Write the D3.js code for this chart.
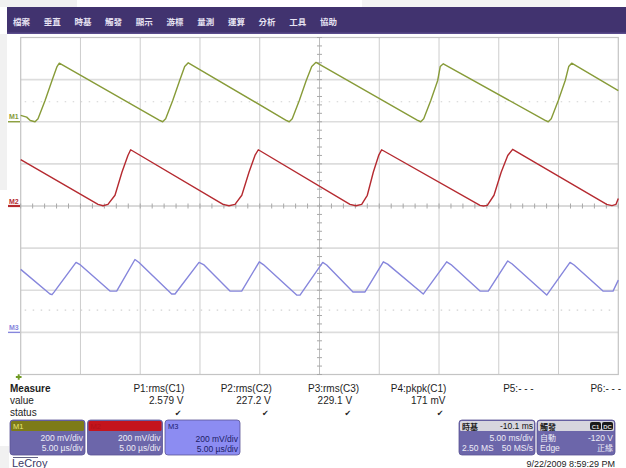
<!DOCTYPE html>
<html>
<head>
<meta charset="utf-8">
<script src="https://cdn.jsdelivr.net/npm/d3@7/dist/d3.min.js"></script>
<style>
  html, body { margin: 0; padding: 0; background: #fff; }
  svg { display: block; font-family: "Liberation Sans", Arial, sans-serif; }
</style>
</head>
<body>
<svg id="scope" width="626" height="468"></svg>
<script>
// ---- menu bar ----
const menuItems = ["檔案", "垂直", "時基", "觸發", "顯示", "游標", "量測", "運算", "分析", "工具", "協助"];

// ---- memory traces: [time (ms), level (mV) relative to the trace's own ground] ----
const traceM1 = [
  [0, 30], [0.5, 22], [0.8, 6], [1.2, 0], [1.45, 14], [2.04, 101], [2.62, 196], [3.04, 262], [3.23, 278],
  [11.58, 8], [11.88, 0], [12.13, 14], [12.72, 101], [13.3, 196], [13.72, 262], [14.02, 280],
  [22.17, 8], [22.47, 0], [22.72, 14], [23.31, 101], [23.89, 196], [24.35, 262], [24.71, 282],
  [33.17, 8], [33.47, 0], [33.72, 14], [34.31, 101], [34.89, 196], [35.1, 262], [35.36, 275],
  [43.84, 8], [44.14, 0], [44.39, 14], [44.98, 101], [45.56, 196], [45.85, 262], [46.1, 278],
  [50, 148]
];
const traceM2 = [
  [0, 220], [6.47, 8], [6.89, 1], [7.3, 8], [7.89, 51], [8.47, 160], [8.97, 240], [9.2, 267],
  [16.93, 8], [17.43, 1], [17.93, 8], [18.5, 51], [19.1, 160], [19.6, 240], [19.88, 267],
  [27.55, 8], [28.05, 1], [28.53, 8], [29.0, 51], [29.5, 160], [29.95, 240], [30.2, 267],
  [38.43, 3], [38.72, 0], [39.04, 3], [39.6, 51], [40.2, 160], [40.75, 240], [41.16, 269],
  [49.03, 8], [49.47, 2], [49.81, 8], [50, 36]
];
const traceM3 = [
  [0, 299], [2.45, 182], [2.62, 179], [2.79, 191], [4.63, 332], [5.0, 320],
  [7.47, 196], [8.03, 196], [9.56, 346], [9.9, 332],
  [12.63, 182], [12.91, 182], [14.92, 332], [15.3, 322],
  [17.51, 196], [18.49, 196], [19.96, 335], [20.3, 322],
  [23.09, 177], [23.37, 177], [25.27, 332], [25.6, 320],
  [27.8, 192], [28.81, 192], [30.34, 335], [30.7, 324],
  [33.68, 182], [35.64, 335], [36.0, 322],
  [38.43, 196], [39.12, 196], [40.75, 339], [41.1, 326],
  [44.01, 177], [45.96, 332], [46.3, 320],
  [48.72, 196], [49.56, 196], [50, 248]
];
const traceIds = ["M1", "M2", "M3"];
const traceGrounds = [400, 0, -600];          // mV, screen offset of each trace
const voltsPerDiv = ["200 mV/div", "200 mV/div", "200 mV/div"];
const timePerDiv = ["5.00 µs/div", "5.00 µs/div", "5.00 µs/div"];

// ---- measurement table ----
const measureNames = ["P1:rms(C1)", "P2:rms(C2)", "P3:rms(C3)", "P4:pkpk(C1)", "P5:- - -", "P6:- - -"];
const measureValues = ["2.579 V", "227.2 V", "229.1 V", "171 mV", "", ""];
const measureStatus = [true, true, true, true, false, false];

// ---- timebase / trigger ----
const timebaseDelay = "-10.1 ms";
const timebaseScale = "5.00 ms/div";
const sampleMemory = "2.50 MS";
const sampleRate = "50 MS/s";
const triggerMode = "自動";
const triggerLevel = "-120 V";
const triggerType = "Edge";
const triggerSlope = "正緣";
const timestamp = "9/22/2009 8:59:29 PM";

const svg = d3.select("#scope");
const W = 626, H = 468;

// light chrome patches around the window
svg.append("rect").attr("x", 0).attr("y", 0).attr("width", 77).attr("height", 7).attr("fill", "#f1f1f1");
svg.append("rect").attr("x", 362).attr("y", 0).attr("width", 208).attr("height", 7).attr("fill", "#f3f3f3");
svg.append("rect").attr("x", 0).attr("y", 34).attr("width", 7).attr("height", 156).attr("fill", "#f1f1f1");
svg.append("rect").attr("x", 0).attr("y", 446).attr("width", 9).attr("height", 22).attr("fill", "#f1f1f1");

// menu bar
svg.append("rect").attr("x", 7).attr("y", 7).attr("width", W - 7).attr("height", 27).attr("fill", "#41336f");
svg.append("rect").attr("x", 7).attr("y", 32.5).attr("width", W - 7).attr("height", 1.5).attr("fill", "#5a4c8c");
const menuX = d3.scaleLinear().domain([0, 1]).range([21.5, 52.2]);
svg.append("g").selectAll("text").data(menuItems).join("text")
  .attr("x", (d, i) => menuX(i))
  .attr("y", 25)
  .attr("text-anchor", "middle")
  .attr("font-family", "'Noto Sans CJK TC', sans-serif")
  .attr("font-size", 8.5)
  .attr("font-weight", 700)
  .attr("fill", "#e6e2f2")
  .text(d => d);

// ---- plot area ----
const x = d3.scaleLinear().domain([0, 50]).range([20.7, 618.3]);
const y = d3.scaleLinear().domain([-800, 800]).range([374.5, 37.5]);
const grid = svg.append("g");

// horizontal divisions
grid.selectAll("line.h").data(d3.range(-600, 601, 200)).join("line")
  .attr("x1", x(0)).attr("x2", x(50))
  .attr("y1", d => y(d)).attr("y2", d => y(d))
  .attr("stroke", d => d === 0 ? "#b4b4b4" : "#dddddd")
  .attr("stroke-width", d => d === 0 ? 1 : 1.6);
// vertical divisions
grid.selectAll("line.v").data(d3.range(5, 50, 5)).join("line")
  .attr("y1", y(800)).attr("y2", y(-800))
  .attr("x1", d => x(d)).attr("x2", d => x(d))
  .attr("stroke", d => d === 25 ? "#bdbdbd" : "#cdcdcd")
  .attr("stroke-width", 1);
// frame
grid.append("rect").attr("x", x(0)).attr("y", y(800))
  .attr("width", x(50) - x(0)).attr("height", y(-800) - y(800))
  .attr("fill", "none").attr("stroke", "#c4c4c4").attr("stroke-width", 1.2);

// minor ticks along the centre axes
grid.selectAll("line.tx").data(d3.range(0, 50.01, 1)).join("line")
  .attr("x1", d => x(d)).attr("x2", d => x(d))
  .attr("y1", y(0) - 2.5).attr("y2", y(0) + 2.5)
  .attr("stroke", "#a8a8a8").attr("stroke-width", 1);
grid.selectAll("line.ty").data(d3.range(-800, 800.1, 40)).join("line")
  .attr("y1", d => y(d)).attr("y2", d => y(d))
  .attr("x1", x(25) - 2.5).attr("x2", x(25) + 2.5)
  .attr("stroke", "#a8a8a8").attr("stroke-width", 1);

// faint cursor rows
[495, -494].forEach(v => {
  grid.append("line")
    .attr("x1", x(0) + 4).attr("x2", x(50) - 4)
    .attr("y1", y(v)).attr("y2", y(v))
    .attr("stroke", "#d2d2d2").attr("stroke-width", 1.2)
    .attr("stroke-dasharray", "1.5 6.5");
});

// traces
const traceColors = ["#879b38", "#b52a30", "#8686dc"];
const traceData = [traceM1, traceM2, traceM3];
const traces = svg.append("g");
traceData.forEach((data, i) => {
  const line = d3.line()
    .x(d => x(d[0]))
    .y(d => y(d[1] + traceGrounds[i]));
  traces.append("path")
    .datum(data)
    .attr("d", line)
    .attr("fill", "none")
    .attr("stroke", traceColors[i])
    .attr("stroke-width", 1.4)
    .attr("stroke-linejoin", "round");
});

// ground markers on the left edge
traceIds.forEach((id, i) => {
  const gy = y(traceGrounds[i]);
  svg.append("line")
    .attr("x1", 8).attr("x2", 20).attr("y1", gy).attr("y2", gy)
    .attr("stroke", traceColors[i]).attr("stroke-width", i === 1 ? 2.2 : 1.4);
  svg.append("text")
    .attr("x", 9).attr("y", gy - 2.5)
    .attr("font-size", 7).attr("font-weight", 700)
    .attr("fill", traceColors[i])
    .text(id);
});

// trigger position marker
svg.append("path")
  .attr("d", d3.symbol(d3.symbolCross, 18)())
  .attr("transform", `translate(${x(0) - 2},377)`)
  .attr("fill", "#6f9a24");

// ---- measurement table ----
const colRight = d3.scaleLinear().domain([0, 1]).range([184.5, 271.8]);
const table = svg.append("g").attr("font-size", 10).attr("fill", "#1d1d1d");
table.append("text").attr("x", 10).attr("y", 392).attr("font-weight", 700).text("Measure");
table.append("text").attr("x", 10).attr("y", 404).text("value");
table.append("text").attr("x", 10).attr("y", 416).text("status");
table.selectAll("text.name").data(measureNames).join("text")
  .attr("x", (d, i) => colRight(i)).attr("y", 392)
  .attr("text-anchor", "end").text(d => d);
table.selectAll("text.val").data(measureValues).join("text")
  .attr("x", (d, i) => colRight(i) - (i === 2 ? 7 : 1)).attr("y", 404)
  .attr("text-anchor", "end").text(d => d);
table.selectAll("text.st").data(measureStatus).join("text")
  .attr("x", (d, i) => colRight(i) - (i === 2 ? 8 : 3)).attr("y", 416)
  .attr("text-anchor", "end")
  .attr("font-family", "'DejaVu Sans', sans-serif")
  .attr("font-size", 8)
  .text(d => d ? "✔" : "");

// ---- trace badges ----
const badgeHeader = ["#7d7b18", "#c4141d", "#8c8cf2"];
const badgeLabel = ["#e8e67a", "#b01018", "#202070"];
const badgeX = d3.scaleLinear().domain([0, 1]).range([10, 87.5]);
const row1 = 441, row2 = 451;
traceIds.forEach((id, i) => {
  const bx = badgeX(i), bw = 75, by = 420, bh = 35;
  const g = svg.append("g");
  const bodyFill = i === 2 ? "#8c8cf2" : "#6c66aa";
  g.append("rect").attr("x", bx).attr("y", by).attr("width", bw).attr("height", bh)
    .attr("rx", 3).attr("fill", bodyFill).attr("stroke", "#5a5496").attr("stroke-width", 0.8);
  if (i < 2) {
    g.append("rect").attr("x", bx + 1).attr("y", by + 1).attr("width", bw - 2).attr("height", 10)
      .attr("rx", 1.5).attr("fill", badgeHeader[i]);
  }
  g.append("text").attr("x", bx + 3).attr("y", by + 8.5)
    .attr("font-size", 7.5).attr("fill", badgeLabel[i]).text(id);
  const tc = i === 2 ? "#1c1c66" : "#ecebf6";
  g.append("text").attr("x", bx + bw - 2).attr("y", row1 + (i === 2 ? 1 : 0))
    .attr("text-anchor", "end").attr("font-size", 8.5).attr("fill", tc).text(voltsPerDiv[i]);
  g.append("text").attr("x", bx + bw - 2).attr("y", row2 + (i === 2 ? 1 : 0))
    .attr("text-anchor", "end").attr("font-size", 8.5).attr("fill", tc).text(timePerDiv[i]);
});

// ---- info badges (timebase, trigger) ----
function infoBadge(bx, bw, title) {
  const g = svg.append("g");
  g.append("rect").attr("x", bx).attr("y", 420).attr("width", bw).attr("height", 35)
    .attr("rx", 3).attr("fill", "#6c66aa").attr("stroke", "#5a5496").attr("stroke-width", 0.8);
  g.append("rect").attr("x", bx + 1).attr("y", 421).attr("width", bw - 2).attr("height", 10)
    .attr("rx", 1.5).attr("fill", "#d6d5de");
  g.append("text").attr("x", bx + 3).attr("y", 429.5)
    .attr("font-family", "'Noto Sans CJK TC', sans-serif").attr("font-size", 8)
    .attr("font-weight", 700).attr("fill", "#222").text(title);
  return g;
}
const tb = infoBadge(459, 76, "時基");
tb.append("text").attr("x", 533).attr("y", 429.3).attr("text-anchor", "end")
  .attr("font-size", 8.5).attr("fill", "#111").text(timebaseDelay);
tb.append("text").attr("x", 533).attr("y", row1).attr("text-anchor", "end")
  .attr("font-size", 8.5).attr("fill", "#ecebf6").text(timebaseScale);
tb.append("text").attr("x", 462).attr("y", row2).attr("font-size", 8.5).attr("fill", "#ecebf6").text(sampleMemory);
tb.append("text").attr("x", 533).attr("y", row2).attr("text-anchor", "end")
  .attr("font-size", 8.5).attr("fill", "#ecebf6").text(sampleRate);

const tr = infoBadge(537, 78, "觸發");
[["C1", 590], ["DC", 602]].forEach(([t, bx]) => {
  tr.append("rect").attr("x", bx).attr("y", 422).attr("width", 11).attr("height", 8)
    .attr("rx", 2).attr("fill", "#1a1a1a");
  tr.append("text").attr("x", bx + 5.5).attr("y", 428.6).attr("text-anchor", "middle")
    .attr("font-size", 6).attr("font-weight", 700).attr("fill", "#d8d8d8").text(t);
});
tr.append("text").attr("x", 540).attr("y", row1)
  .attr("font-family", "'Noto Sans CJK TC', sans-serif").attr("font-size", 8)
  .attr("fill", "#ecebf6").text(triggerMode);
tr.append("text").attr("x", 613).attr("y", row1).attr("text-anchor", "end")
  .attr("font-size", 8.5).attr("fill", "#ecebf6").text(triggerLevel);
tr.append("text").attr("x", 540).attr("y", row2).attr("font-size", 8.5).attr("fill", "#ecebf6").text(triggerType);
tr.append("text").attr("x", 613).attr("y", row2).attr("text-anchor", "end")
  .attr("font-family", "'Noto Sans CJK TC', sans-serif").attr("font-size", 8)
  .attr("fill", "#ecebf6").text(triggerSlope);

// footer
svg.append("text").attr("x", 615).attr("y", 467).attr("text-anchor", "end")
  .attr("font-size", 9).attr("fill", "#222").text(timestamp);
svg.append("text").attr("x", 12).attr("y", 467)
  .attr("font-size", 11).attr("fill", "#3a3a66").text("LeCroy");
svg.append("line").attr("x1", 13).attr("x2", 38).attr("y1", 457.5).attr("y2", 457.5)
  .attr("stroke", "#3a3a66").attr("stroke-width", 0.8);
</script>
</body>
</html>
